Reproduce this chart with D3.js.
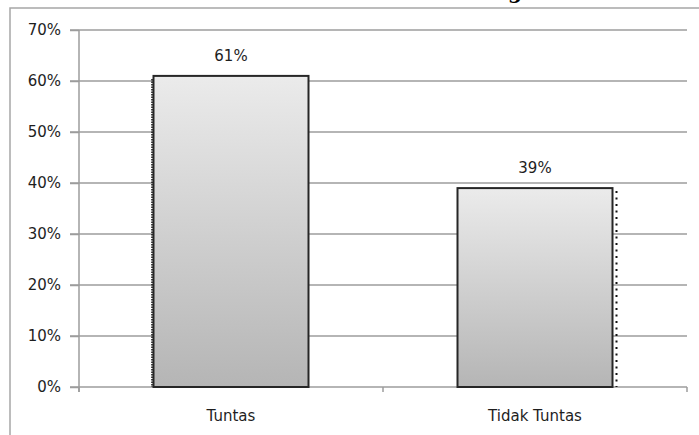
<!DOCTYPE html>
<html>
<head>
<meta charset="utf-8">
<script src="https://cdn.jsdelivr.net/npm/d3@7"></script>
<style>
  body { margin: 0; background: #fff; }
  text { font-family: "DejaVu Sans", sans-serif; fill: #1e1e1e; }
</style>
</head>
<body>
<div id="chart"></div>
<script>
// data
var categories = ["Tuntas", "Tidak Tuntas"];
var values = [61, 39];
var yTicks = [0, 10, 20, 30, 40, 50, 60, 70];

var svgWidth = 699;
var svgHeight = 435;

var margin = { top: 30, right: 12, bottom: 48, left: 79 };
var width = 687 - margin.left;
var height = 387 - margin.top;

var svg = d3.select("#chart")
  .append("svg")
  .attr("width", svgWidth)
  .attr("height", svgHeight);

// gradient for the bars
var defs = svg.append("defs");
var grad = defs.append("linearGradient")
  .attr("id", "barGrad")
  .attr("x1", 0).attr("y1", 0).attr("x2", 0).attr("y2", 1);
grad.append("stop").attr("offset", "0%").attr("stop-color", "#ebebeb");
grad.append("stop").attr("offset", "100%").attr("stop-color", "#b5b5b5");

// outer chart border (cut off at right and bottom)
svg.append("rect")
  .attr("x", 10)
  .attr("y", 8)
  .attr("width", 720)
  .attr("height", 460)
  .attr("fill", "none")
  .attr("stroke", "#a6a6a6")
  .attr("stroke-width", 1.5);

// bit of the title that shows above the frame
svg.append("text")
  .attr("x", 515)
  .attr("y", -1)
  .attr("text-anchor", "middle")
  .style("font-family", "DejaVu Serif")
  .style("font-weight", "bold")
  .style("font-size", "20px")
  .style("fill", "#000")
  .text("g");

var chartGroup = svg.append("g")
  .attr("transform", `translate(${margin.left}, ${margin.top})`);

var xScale = d3.scaleBand()
  .domain(categories)
  .range([0, width])
  .paddingInner(0)
  .paddingOuter(0);

var yScale = d3.scaleLinear()
  .domain([0, 70])
  .range([height, 0]);

// gridlines
chartGroup.append("g")
  .selectAll("line")
  .data(yTicks)
  .enter()
  .append("line")
  .attr("x1", -9)
  .attr("x2", width)
  .attr("y1", d => yScale(d))
  .attr("y2", d => yScale(d))
  .attr("stroke", "#9c9c9c")
  .attr("stroke-width", 1.5);

// y axis
var leftAxis = d3.axisLeft(yScale)
  .tickValues(yTicks)
  .tickSize(9)
  .tickPadding(9)
  .tickFormat(d => d + "%");

var yAxis = chartGroup.append("g")
  .call(leftAxis);
yAxis.select(".domain").remove();
yAxis.selectAll(".tick line").attr("stroke", "#9c9c9c").attr("stroke-width", 1.5);
yAxis.selectAll("text").style("font-size", "15px").attr("fill", "#1e1e1e");

chartGroup.append("line")
  .attr("x1", 0).attr("x2", 0)
  .attr("y1", 0).attr("y2", height + 5)
  .attr("stroke", "#9c9c9c")
  .attr("stroke-width", 1.5);

// x axis ticks at band edges
var edges = categories.map(c => xScale(c)).concat([width]);
chartGroup.append("g")
  .selectAll("line")
  .data(edges)
  .enter()
  .append("line")
  .attr("x1", d => d).attr("x2", d => d)
  .attr("y1", height).attr("y2", height + 5)
  .attr("stroke", "#9c9c9c")
  .attr("stroke-width", 1.5);

// x labels
chartGroup.append("g")
  .selectAll("text")
  .data(categories)
  .enter()
  .append("text")
  .attr("x", d => xScale(d) + xScale.bandwidth() / 2)
  .attr("y", height + 34)
  .attr("text-anchor", "middle")
  .style("font-size", "15px")
  .text(d => d);

// bars
var barW = 155;
function barX(i) {
  return xScale(categories[i]) + (xScale.bandwidth() - barW) / 2;
}

var bars = chartGroup.selectAll(".bar")
  .data(values)
  .enter()
  .append("g")
  .attr("class", "bar");

bars.append("rect")
  .attr("x", (d, i) => barX(i))
  .attr("y", d => yScale(d))
  .attr("width", barW)
  .attr("height", d => height - yScale(d))
  .attr("fill", "url(#barGrad)")
  .attr("stroke", "#262626")
  .attr("stroke-width", 2);

// dotted shadow edge: left of first bar, right of second
bars.append("line")
  .attr("x1", (d, i) => i === 0 ? barX(i) - 1.5 : barX(i) + barW + 4)
  .attr("x2", (d, i) => i === 0 ? barX(i) - 1.5 : barX(i) + barW + 4)
  .attr("y1", d => yScale(d) + 3)
  .attr("y2", height)
  .attr("stroke", "#111")
  .attr("stroke-width", (d, i) => i === 0 ? 1.5 : 2)
  .attr("stroke-dasharray", (d, i) => i === 0 ? "1.5,1" : "2,4.5");

// value labels
bars.append("text")
  .attr("x", (d, i) => xScale(categories[i]) + xScale.bandwidth() / 2)
  .attr("y", d => yScale(d) - 15)
  .attr("text-anchor", "middle")
  .style("font-size", "15px")
  .text(d => d + "%");
</script>
</body>
</html>
